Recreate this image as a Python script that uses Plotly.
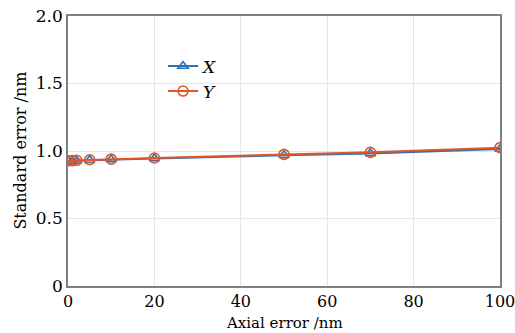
import plotly.graph_objects as go

axial = [0, 1, 2, 5, 10, 20, 50, 70, 100]
std_x = [0.925, 0.925, 0.928, 0.932, 0.937, 0.945, 0.968, 0.982, 1.015]
std_y = [0.928, 0.929, 0.931, 0.935, 0.940, 0.948, 0.975, 0.990, 1.025]

x_ticks = [0, 20, 40, 60, 80, 100]
y_ticks = [0, 0.5, 1.0, 1.5, 2.0]
y_labels = ["0", "0.5", "1.0", "1.5", "2.0"]

font = "DejaVu Serif"

fig = go.Figure()
fig.add_trace(go.Scatter(
    x=axial, y=std_x, mode="lines+markers", name="<i>X</i>",
    line=dict(color="#2a72b5", width=2),
    marker=dict(symbol="triangle-up-open", size=9, color="#2a72b5", line=dict(width=1.6)),
))
fig.add_trace(go.Scatter(
    x=axial, y=std_y, mode="lines+markers", name="<i>Y</i>",
    line=dict(color="#e0562a", width=2),
    marker=dict(symbol="circle-open", size=10, color="#e0562a", line=dict(width=1.6)),
))

fig.update_layout(
    width=515, height=333,
    margin=dict(l=68, r=15, t=16, b=47),
    paper_bgcolor="white", plot_bgcolor="white",
    font=dict(family=font, size=16, color="black"),
    showlegend=True,
    legend=dict(x=0.22, y=0.88, xanchor="left", yanchor="top",
                bgcolor="rgba(255,255,255,0)", font=dict(size=17),
                tracegroupgap=0, itemwidth=30),
    annotations=[
        dict(text="Axial error /nm", xref="paper", yref="paper", x=0.5, y=-0.174,
             xanchor="center", yanchor="bottom", showarrow=False, font=dict(size=15),
             borderpad=0),
        dict(text="Standard error /nm", xref="paper", yref="paper", x=-0.112, y=0.5,
             xanchor="center", yanchor="middle", textangle=-90, showarrow=False,
             font=dict(size=16)),
    ],
)
fig.update_xaxes(
    range=[0, 100], tickvals=x_ticks, showgrid=True, gridcolor="#e6e6e6", gridwidth=1,
    showline=True, linecolor="#808080", linewidth=1.5, mirror=True,
    ticks="", zeroline=False, automargin=False, ticklabeloverflow="allow",
    tickfont=dict(size=16), ticklabelstandoff=0,
)
fig.update_yaxes(
    range=[0, 2.0], tickvals=y_ticks, ticktext=y_labels, showgrid=True, gridcolor="#e6e6e6", gridwidth=1,
    showline=True, linecolor="#808080", linewidth=1.5, mirror=True,
    ticks="", zeroline=False, automargin=False,
    tickfont=dict(size=17),
)

fig.write_html("out.html")
